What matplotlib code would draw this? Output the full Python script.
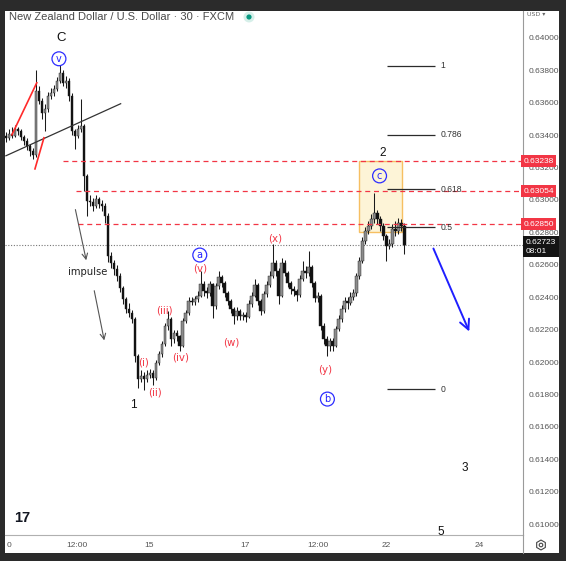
import matplotlib
matplotlib.use('Agg')
import matplotlib.pyplot as plt
from matplotlib.patches import Rectangle, FancyArrowPatch, Circle, RegularPolygon
import matplotlib.transforms as mtransforms

plt.rcParams['font.family'] = ['Liberation Sans', 'DejaVu Sans']

# ---------------- data (30-min NZD/USD candles) ----------------
opens0 = 0.63395
closes = [0.63383, 0.63407, 0.63395, 0.63438, 0.63426, 0.63389, 0.63364, 0.63333, 0.63302, 0.63278,
          0.63673, 0.63611, 0.63537, 0.63562, 0.63642, 0.63660, 0.63685, 0.63735, 0.63784, 0.63722,
          0.63735, 0.63642, 0.63426, 0.63395, 0.63438, 0.63457, 0.63148, 0.62994, 0.62990, 0.62963,
          0.63006, 0.62975, 0.62963, 0.62901, 0.62654, 0.62611, 0.62574, 0.62531, 0.62457, 0.62389,
          0.62327, 0.62302, 0.62265, 0.62037, 0.61895, 0.61914, 0.61895, 0.61920, 0.61932, 0.61901,
          0.61994, 0.62049, 0.62111, 0.62222, 0.62265, 0.62142, 0.62179, 0.62160, 0.62099, 0.62253,
          0.62302, 0.62377, 0.62370, 0.62389, 0.62407, 0.62481, 0.62438, 0.62426, 0.62481, 0.62346,
          0.62469, 0.62525, 0.62488, 0.62426, 0.62377, 0.62327, 0.62284, 0.62315, 0.62284, 0.62290,
          0.62278, 0.62358, 0.62407, 0.62475, 0.62377, 0.62315, 0.62420, 0.62475, 0.62531, 0.62611,
          0.62562, 0.62407, 0.62611, 0.62549, 0.62488, 0.62451, 0.62438, 0.62414, 0.62512, 0.62562,
          0.62549, 0.62586, 0.62488, 0.62395, 0.62407, 0.62222, 0.62142, 0.62099, 0.62130, 0.62099,
          0.62204, 0.62265, 0.62327, 0.62377, 0.62364, 0.62401, 0.62426, 0.62531, 0.62623, 0.62747,
          0.62809, 0.62840, 0.62883, 0.62920, 0.62883, 0.62840, 0.62778, 0.62716, 0.62728, 0.62821,
          0.62809, 0.62858, 0.62840, 0.62723]
highs = [0.63420, 0.63440, 0.63450, 0.63460, 0.63450, 0.63440, 0.63400, 0.63380, 0.63345, 0.63320,
         0.63802, 0.63700, 0.63630, 0.63590, 0.63665, 0.63690, 0.63710, 0.63760, 0.63833, 0.63800,
         0.63765, 0.63750, 0.63660, 0.63440, 0.63460, 0.63623, 0.63470, 0.63160, 0.63030, 0.63010,
         0.63030, 0.63020, 0.63000, 0.62980, 0.62920, 0.62680, 0.62630, 0.62600, 0.62550, 0.62470,
         0.62400, 0.62364, 0.62320, 0.62280, 0.62050, 0.61950, 0.61940, 0.61950, 0.61960, 0.61950,
         0.62010, 0.62070, 0.62130, 0.62240, 0.62315, 0.62280, 0.62200, 0.62200, 0.62170, 0.62270,
         0.62320, 0.62400, 0.62400, 0.62410, 0.62440, 0.62562, 0.62500, 0.62460, 0.62500, 0.62490,
         0.62490, 0.62562, 0.62540, 0.62500, 0.62440, 0.62390, 0.62340, 0.62340, 0.62330, 0.62310,
         0.62310, 0.62380, 0.62430, 0.62512, 0.62490, 0.62390, 0.62440, 0.62500, 0.62560, 0.62728,
         0.62630, 0.62580, 0.62640, 0.62630, 0.62560, 0.62500, 0.62470, 0.62450, 0.62540, 0.62623,
         0.62590, 0.62685, 0.62600, 0.62500, 0.62430, 0.62420, 0.62240, 0.62160, 0.62150, 0.62150,
         0.62220, 0.62290, 0.62350, 0.62400, 0.62400, 0.62430, 0.62450, 0.62550, 0.62650, 0.62770,
         0.62830, 0.62870, 0.62910, 0.63043, 0.62940, 0.62900, 0.62860, 0.62790, 0.62760, 0.62850,
         0.62870, 0.62890, 0.62880, 0.62860]
lows = [0.63360, 0.63370, 0.63380, 0.63385, 0.63400, 0.63370, 0.63340, 0.63310, 0.63270, 0.63250,
        0.63265, 0.63590, 0.63500, 0.63426, 0.63540, 0.63620, 0.63640, 0.63670, 0.63720, 0.63700,
        0.63690, 0.63610, 0.63400, 0.63315, 0.63380, 0.63420, 0.63056, 0.62901, 0.62960, 0.62930,
        0.62950, 0.62950, 0.62930, 0.62860, 0.62620, 0.62580, 0.62540, 0.62500, 0.62430, 0.62360,
        0.62300, 0.62280, 0.62240, 0.62000, 0.61839, 0.61880, 0.61827, 0.61880, 0.61900, 0.61858,
        0.61890, 0.61980, 0.62030, 0.62100, 0.62200, 0.62099, 0.62120, 0.62130, 0.62068, 0.62090,
        0.62240, 0.62290, 0.62350, 0.62350, 0.62370, 0.62400, 0.62410, 0.62395, 0.62410, 0.62272,
        0.62330, 0.62450, 0.62460, 0.62400, 0.62350, 0.62300, 0.62235, 0.62260, 0.62260, 0.62260,
        0.62250, 0.62270, 0.62340, 0.62400, 0.62350, 0.62290, 0.62300, 0.62400, 0.62460, 0.62520,
        0.62530, 0.62358, 0.62400, 0.62530, 0.62460, 0.62420, 0.62410, 0.62377, 0.62400, 0.62500,
        0.62520, 0.62530, 0.62460, 0.62370, 0.62370, 0.62200, 0.62110, 0.62037, 0.62070, 0.62070,
        0.62090, 0.62190, 0.62250, 0.62310, 0.62330, 0.62350, 0.62380, 0.62410, 0.62510, 0.62610,
        0.62730, 0.62790, 0.62820, 0.62860, 0.62850, 0.62810, 0.62750, 0.62623, 0.62700, 0.62710,
        0.62780, 0.62790, 0.62810, 0.62667]
opens = [opens0] + closes[:-1]

price_ticks = [0.610, 0.612, 0.614, 0.616, 0.618, 0.620, 0.622, 0.624, 0.626, 0.628,
               0.630, 0.632, 0.634, 0.636, 0.638, 0.640]
time_labels = ['0', '12:00', '15', '17', '12:00', '22', '24']
red_levels = [0.63238, 0.63054, 0.62850]
last_price = 0.62723
countdown = '08:01'
fib_levels = [1, 0.786, 0.618, 0.5, 0]
fib_labels = ['1', '0.786', '0.618', '0.5', '0']
fib_high = 0.63827
fib_low = 0.61833

# ---------------- figure ----------------
W, H = 566, 561
fig = plt.figure(figsize=(W / 100, H / 100), dpi=100)
fig.patch.set_facecolor('#2b2b2b')


def fx(px):
    return px / W


def fy(py):
    return 1 - py / H


fig.add_artist(Rectangle((fx(5), fy(553)), fx(559) - fx(5), fy(11) - fy(553),
                         transform=fig.transFigure, facecolor='white', edgecolor='none', zorder=0))

ax = fig.add_axes([fx(5), fy(535), fx(522.5) - fx(5), fy(11) - fy(535)])
ax.set_facecolor('white')
ax.set_ylim(0.60934, 0.641646)
ax.set_xlim(-0.3, 172.4)

# candles
xs = list(range(len(closes)))
ax.vlines(xs, lows, highs, color='#1a1a1a', lw=0.75, zorder=3)
for i in xs:
    o, c = opens[i], closes[i]
    col = '#8c8c8c' if c >= o else '#111111'
    ax.bar(i, max(abs(c - o), 0.00003), bottom=min(o, c), width=0.8,
           color=col, edgecolor='#1a1a1a', linewidth=0.3, zorder=4)

# axes styling
for s in ['top', 'left']:
    ax.spines[s].set_visible(False)
ax.spines['right'].set_color('#9a9a9a')
ax.spines['bottom'].set_color('#b0b0b0')
ax.spines['right'].set_linewidth(0.8)
ax.spines['bottom'].set_linewidth(0.8)
ax.yaxis.tick_right()
ax.set_yticks(price_ticks)
ax.set_yticklabels([f'{t:.5f}' for t in price_ticks])
ax.tick_params(axis='y', length=0, pad=4.5, labelsize=6.0, labelcolor='#555555')
ax.set_xticks([1.0, 23.7, 47.7, 79.7, 104.0, 127.0, 158.0])
ax.set_xticklabels(time_labels)
ax.tick_params(axis='x', length=0, pad=5, labelsize=6.0, labelcolor='#555555')

blend = mtransforms.blended_transform_factory(ax.transAxes, ax.transData)

# dashed red levels
for lvl, x0 in zip(red_levels, [19.0, 23.3, 24.0]):
    ax.hlines(lvl, x0, 172.4, colors='#f23645', linestyles=(0, (4, 3)), lw=0.9, zorder=5)
    ax.text(1.0015, lvl, f'{lvl:.5f}', transform=blend, ha='left', va='center', color='white',
            fontsize=6.0, clip_on=False, zorder=12,
            bbox=dict(boxstyle='square,pad=0.32', fc='#f23645', ec='none'))

# last price line and label
ax.axhline(last_price, color='#777777', ls=(0, (1, 1.5)), lw=0.8, zorder=2)
ax.annotate(f'{last_price:.5f}\n{countdown}', xy=(1.0, last_price), xycoords=blend,
            xytext=(3.2, 5.8), textcoords='offset pixels', ha='left', va='top', color='white',
            fontsize=6.0, linespacing=1.3, annotation_clip=False, zorder=12,
            bbox=dict(boxstyle='square,pad=0.32', fc='#131313', ec='none'))

# orange box
ax.add_patch(Rectangle((117.7, 0.62802), 14.6, 0.63238 - 0.62802, facecolor='#fdf3d0',
                       edgecolor='#f5b54a', lw=1.0, alpha=0.85, zorder=1))

# fib levels
for lv, lab in zip(fib_levels, fib_labels):
    p = fib_low + lv * (fib_high - fib_low)
    ax.hlines(p, 127.3, 143.3, colors='#2b2b2b', lw=0.9, zorder=5)
    ax.text(145.0, p, lab, ha='left', va='center', fontsize=6.2, color='#333333', zorder=6)

# trendlines
ax.plot([0, 38.3], [0.63272, 0.63593], color='#333333', lw=0.9, zorder=5)
ax.plot([2.0, 10.3], [0.63401, 0.63722], color='#ff2a2a', lw=1.2, zorder=5)
ax.plot([9.7, 12.7], [0.63191, 0.63383], color='#ff2a2a', lw=1.2, zorder=5)

# arrows
ax.add_patch(FancyArrowPatch((142.3, 0.62716), (155.0, 0.62173), arrowstyle='->,head_length=7,head_width=3.5',
                             color='#1f1fff', lw=1.4, mutation_scale=1, zorder=6))
for a, b in [((23.0, 0.62957), (27.0, 0.62611)), ((29.3, 0.62457), (33.0, 0.62117))]:
    ax.add_patch(FancyArrowPatch(a, b, arrowstyle='->,head_length=4,head_width=2',
                                 color='#555555', lw=0.8, mutation_scale=1, zorder=6))

# wave labels
black_labels = [('C', 18.3, 0.64000, 9.5), ('1', 42.7, 0.61735, 8.5), ('2', 125.7, 0.63290, 8.5),
                ('3', 153.3, 0.61346, 8.5)]
for t, x, y, fs in black_labels:
    ax.text(x, y, t, ha='center', va='center', fontsize=fs, color='#111111', zorder=7)
ax.text(145.3, 0.60950, '5', ha='center', va='center', fontsize=8.5, color='#111111', zorder=7,
        clip_on=False)
ax.text(27.3, 0.62556, 'impulse', ha='center', va='center', fontsize=7.2, color='#222222', zorder=7,
        family=['DejaVu Sans'])

red_labels = [('(i)', 46.0, 0.62000), ('(ii)', 49.7, 0.61815), ('(iii)', 53.0, 0.62321),
              ('(iv)', 58.3, 0.62031), ('(w)', 75.3, 0.62123), ('(v)', 65.0, 0.62574),
              ('(x)', 90.0, 0.62765), ('(y)', 106.7, 0.61951)]
for t, x, y in red_labels:
    ax.text(x, y, t, ha='center', va='center', fontsize=7.4, color='#f23645', zorder=7,
            family=['DejaVu Sans'])

blue_labels = [('v', 17.7, 0.63870), ('a', 64.7, 0.62660), ('b', 107.3, 0.61772), ('c', 124.7, 0.63148)]
for t, x, y in blue_labels:
    ax.text(x, y, t, ha='center', va='center', fontsize=7.0, color='#2323ff', zorder=8,
            family=['DejaVu Sans'],
            bbox=dict(boxstyle='circle,pad=0.2', fc='none', ec='#2d2dff', lw=0.9))

# ---------------- header / chrome ----------------
fig.text(fx(9), fy(17.5), 'New Zealand Dollar / U.S. Dollar · 30 · FXCM', ha='left', va='center',
         fontsize=8.0, color='#4a4a4a')
fig.add_artist(Circle((fx(249), fy(17)), 5.5 / W, transform=fig.transFigure, fc='#d6efe9', ec='none'))
fig.add_artist(Circle((fx(249), fy(17)), 2.6 / W, transform=fig.transFigure, fc='#089981', ec='none'))
fig.text(fx(536), fy(15), 'USD ▾', ha='center', va='center', fontsize=4.5, color='#666666',
         family=['DejaVu Sans'])
fig.text(fx(22), fy(518), '17', ha='center', va='center', fontsize=10.5, color='#131722',
         fontweight='heavy')
# settings gear
fig.add_artist(RegularPolygon((fx(541), fy(545)), 6, radius=5 / W, transform=fig.transFigure,
                              fc='none', ec='#444444', lw=0.8))
fig.add_artist(Circle((fx(541), fy(545)), 1.8 / W, transform=fig.transFigure, fc='none',
                      ec='#444444', lw=0.8))
fig.add_artist(plt.Line2D([fx(522.5), fx(522.5)], [fy(535), fy(553)], transform=fig.transFigure,
                          color='#9a9a9a', lw=0.8))

fig.savefig('out.png', dpi=100, facecolor=fig.get_facecolor())
